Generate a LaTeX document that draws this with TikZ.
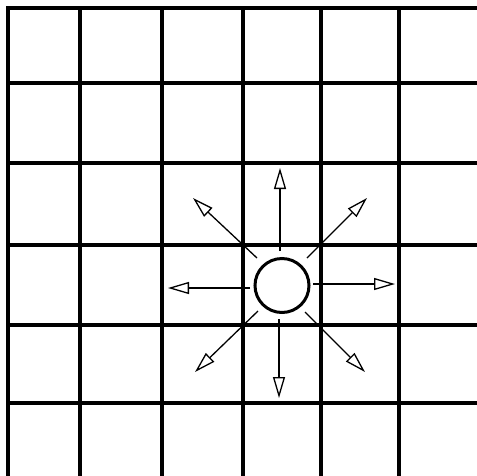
\documentclass[tikz,border=0pt]{standalone}
\usetikzlibrary{arrows.meta}
\begin{document}
\begin{tikzpicture}[x=1pt,y=-1pt,
  gridline/.style={line width=3.6pt, black},
  ray/.style={line width=1.3pt, black, -{Triangle[open,length=21pt,width=12pt,line width=1.3pt]}},
  hole/.style={circle, draw=black, line width=3pt, minimum size=54pt, inner sep=0pt}]
\useasboundingbox (0,0) rectangle (477,475);
\fill[white] (0,0) rectangle (477,475);
\begin{scope}
\clip (0,0) rectangle (477,475);
% vertical grid lines
\foreach \gx in {8,80,162,243,321,399,479.5}
  \draw[gridline] (\gx,6.2) -- (\gx,480);
% horizontal grid lines
\foreach \gy in {8,83,163,245,325,403}
  \draw[gridline] (6.2,\gy) -- (482,\gy);
\end{scope}
% central circle
\node[hole] (c) at (282,285.5) {};
% ray start and tip coordinates
\coordinate (nS) at (280,251);  \coordinate (nT) at (280,168);
\coordinate (sS) at (279,319);  \coordinate (sT) at (279,398);
\coordinate (wS) at (250,288);  \coordinate (wT) at (168,288);
\coordinate (eS) at (313,284);  \coordinate (eT) at (395,284);
\coordinate (nwS) at (257,258); \coordinate (nwT) at (193,198);
\coordinate (neS) at (307,258); \coordinate (neT) at (367,198);
\coordinate (swS) at (258,311); \coordinate (swT) at (195,372);
\coordinate (seS) at (305,312); \coordinate (seT) at (365,372);
\foreach \d in {n,s,w,e,nw,ne,sw,se}
  \draw[ray] (\d S) -- (\d T);
\end{tikzpicture}
\end{document}
